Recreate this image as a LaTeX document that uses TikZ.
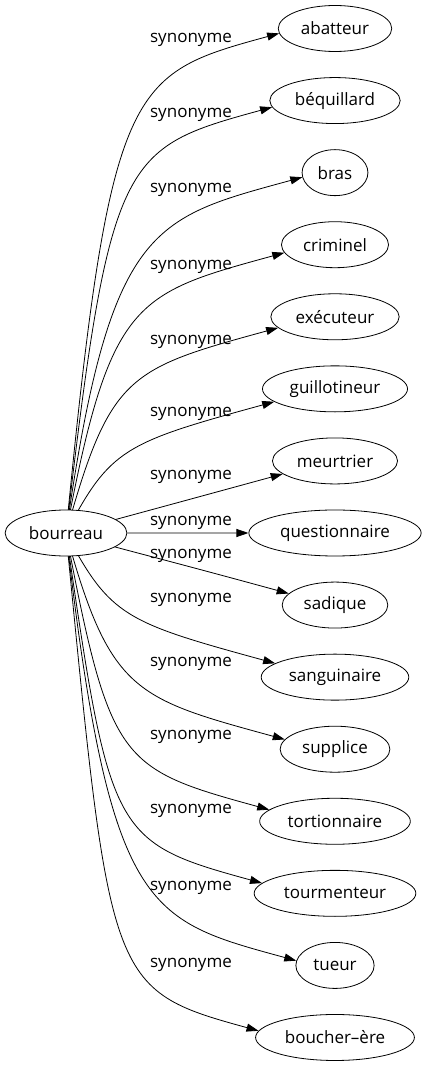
\documentclass[tikz,border=0pt]{standalone}
\usepackage{fontspec}
\setmainfont{Open Sans}
\usetikzlibrary{arrows.meta,shapes.geometric,calc,backgrounds}
\begin{document}
\begin{tikzpicture}[x=1pt,y=-1pt,
  word/.style={draw, fill=white, ellipse, line width=0.8pt, minimum height=46pt, inner xsep=6pt, inner ysep=2pt, font=\fontsize{17}{20}\selectfont},
  lab/.style={font=\fontsize{17}{20}\selectfont, anchor=base, inner sep=0pt},
  edge/.style={line width=0.8pt, -{Triangle[length=12pt,width=8pt]}}]
\useasboundingbox (0,0) rectangle (425,1067);
\node[word] (b) at (66,533) {bourreau};
\foreach \nd/\i/\txt in {t0/0/abatteur, t1/1/béquillard, t2/2/bras, t3/3/criminel, t4/4/exécuteur, t5/5/guillotineur, t6/6/meurtrier, t7/7/questionnaire, t8/8/sadique, t9/9/sanguinaire, t10/10/supplice, t11/11/tortionnaire, t12/12/tourmenteur, t13/13/tueur, t14/14/boucher–ère}{
  \pgfmathsetmacro\yt{28.5+72.07*\i}
  \node[word] (\nd) at (335,\yt) {\txt};
}
\begin{pgfonlayer}{background}
\foreach \nd/\i in {t0/0, t1/1, t2/2, t3/3, t4/4, t5/5, t6/6, t8/8, t9/9, t10/10, t11/11, t12/12, t13/13, t14/14}{
  \pgfmathsetmacro\sg{(\i<7) ? -1 : 1}
  \pgfmathsetmacro\ang{(\i<7) ? (185+1.5*\i) : (175-1.5*(14-\i))}
  \coordinate (e\nd) at (\nd.\ang);
  \draw[edge] let \p1=(e\nd) in (b.center) .. controls (110pt,{\y1+\sg*47pt}) and ({\x1-150pt},{\y1+\sg*41pt}) .. (\nd.\ang);
}
\draw[edge] (b) -- (t7);
\end{pgfonlayer}
\foreach \nd/\ly in {t0/42.7, t1/117.7, t2/192.7, t3/269.7, t4/344.7, t5/416.7, t6/479.7, t7/525, t8/558, t9/602.7, t10/666.7, t11/739.7, t12/813.7, t13/890.7, t14/967.7}{
  \node[lab] (l\nd) at (191,\ly) {synonyme};
}
\end{tikzpicture}
\end{document}
